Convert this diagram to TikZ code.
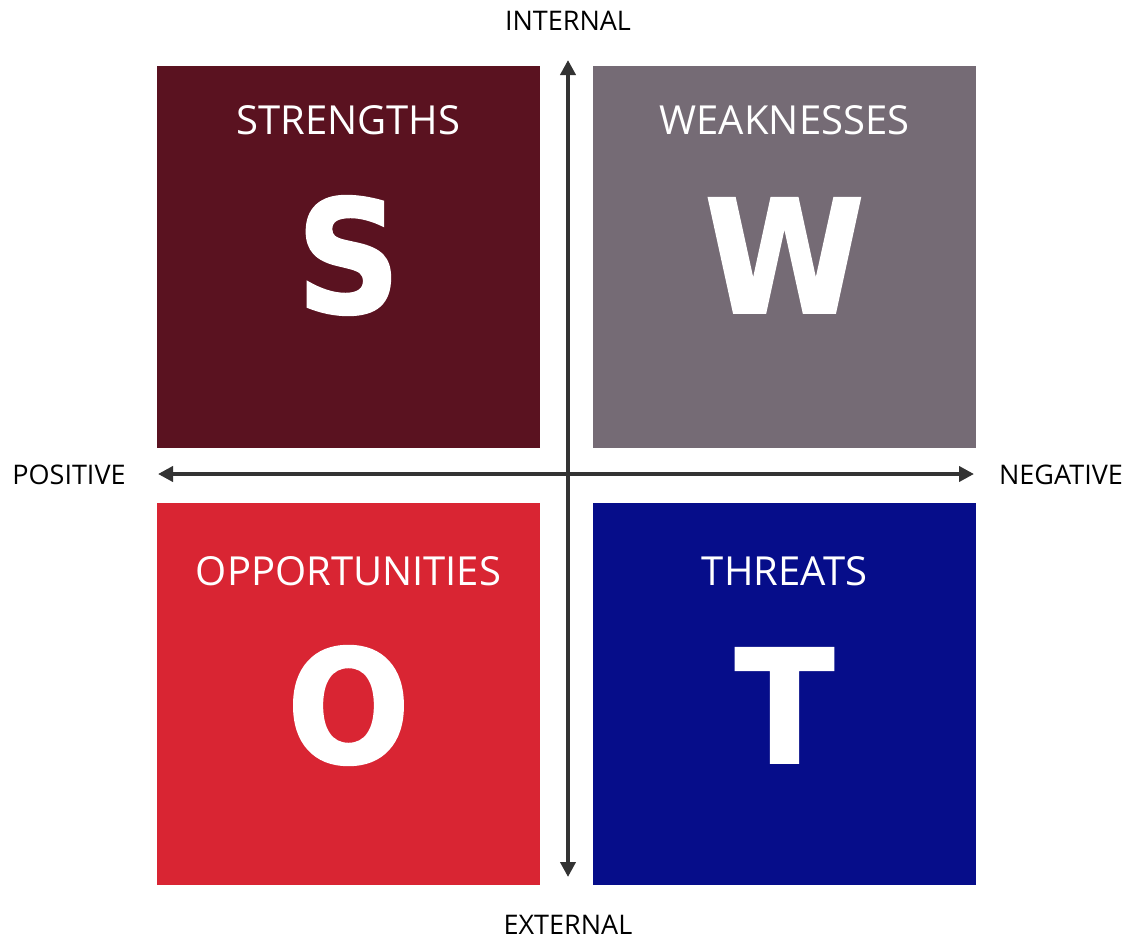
\documentclass[tikz,border=0pt]{standalone}
\usepackage{fontspec}
\setmainfont{Open Sans}
\newfontfamily\letterfont{DejaVu Sans}[FakeBold=1.2, FakeStretch=0.92]
\usepackage{xcolor}
\usepackage{tikz}
\usetikzlibrary{arrows.meta}
\usetikzlibrary{positioning}
\definecolor{strcol}{HTML}{5A1220}
\definecolor{weakcol}{HTML}{756B75}
\definecolor{oppcol}{HTML}{D92533}
\definecolor{thrcol}{HTML}{060D8A}
\definecolor{axiscol}{HTML}{333333}
\tikzset{
	quadnode/.style={rectangle, draw=none, minimum width=383pt, minimum height=382pt, inner sep=0pt},
	titlenode/.style={anchor=base, text=white, inner sep=0pt, font=\fontsize{40}{44}\selectfont},
	letternode/.style={anchor=base, text=white, inner sep=0pt, font=\fontsize{158}{160}\letterfont\bfseries},
	axislabel/.style={inner sep=0pt, text=black, font=\fontsize{27}{30}\selectfont},
	axisline/.style={draw=axiscol, line width=4pt, {Triangle[width=15pt,length=15pt]}-{Triangle[width=15pt,length=15pt]}}
}

\begin{document}
\begin{tikzpicture}[x=1pt, y=-1pt]
		\useasboundingbox (0,0) rectangle (1130,940);
		%quadrants
		\node[quadnode, fill=strcol] at (348.5,257) (S) {};
		\node[quadnode, fill=weakcol] at (784.5,257) (W) {};
		\node[quadnode, fill=oppcol] at (348.5,694) (O) {};
		\node[quadnode, fill=thrcol] at (784.5,694) (T) {};
		
		\node[titlenode] at (348.5,134) (St) {STRENGTHS};
		\node[titlenode] at (784.5,134) (Wt) {WEAKNESSES};
		\node[titlenode] at (348.5,585) (Ot) {OPPORTUNITIES};
		\node[titlenode] at (784.5,585) (Tt) {THREATS};
		
		\node[letternode] at (348.5,313) (Sl) {S};
		\node[letternode] at (784.5,313) (Wl) {W};
		\node[letternode] at (348.5,763) (Ol) {O};
		\node[letternode] at (784.5,763) (Tl) {T};
		
		%axes
		\coordinate (top) at (568,60);
		\coordinate (bottom) at (568,877);
		\coordinate (left) at (158,474);
		\coordinate (right) at (974,474);
		\draw[axisline] (bottom) -- (top);
		\draw[axisline] (right) -- (left);
		
		\node[axislabel] at (568,21) (int) {INTERNAL};
		\node[axislabel] at (568,925) (ext) {EXTERNAL};
		\node[axislabel] at (69,475) (pos) {POSITIVE};
		\node[axislabel] at (1061,475) (neg) {NEGATIVE};
	\end{tikzpicture}
\end{document}
